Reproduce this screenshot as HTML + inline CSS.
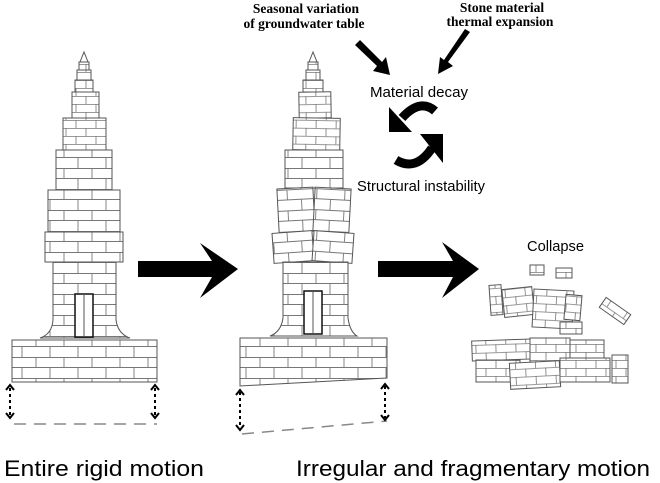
<!DOCTYPE html>
<html><head><meta charset="utf-8"><style>html,body{margin:0;padding:0;background:#fff}svg{display:block}</style></head>
<body>
<svg width="660" height="483" viewBox="0 0 660 483" xmlns="http://www.w3.org/2000/svg">
<defs>
<pattern id="b" width="28" height="21" patternUnits="userSpaceOnUse">
<rect width="28" height="21" fill="#fff"/>
<path d="M0 0.5H28M0 10.5H28M8 0V10.5M22 10.5V21" stroke="#777" stroke-width="0.9" fill="none"/>
</pattern>
<pattern id="bs" width="20" height="16" patternUnits="userSpaceOnUse">
<rect width="20" height="16" fill="#fff"/>
<path d="M0 0.5H20M0 8.5H20M6 0V8M16 8V16" stroke="#777" stroke-width="0.8" fill="none"/>
</pattern>
</defs>
<g stroke="#555" stroke-width="1">
<!-- Tower 1 -->
<path d="M84 52L80 62H88Z" fill="#fff"/>
<rect x="79" y="62" width="10" height="8" fill="url(#bs)"/>
<rect x="77" y="70" width="14" height="10" fill="url(#bs)"/>
<rect x="75" y="80" width="18" height="12" fill="url(#bs)"/>
<rect x="72" y="92" width="27" height="26" fill="url(#bs)"/>
<rect x="63" y="118" width="43" height="32" fill="url(#bs)"/>
<rect x="56" y="150" width="56" height="40" fill="url(#b)"/>
<rect x="48" y="190" width="72" height="42" fill="url(#b)"/>
<rect x="45" y="232" width="78" height="30" fill="url(#b)"/>
<path d="M53 262H116V320Q118 334 130 338H40Q52 334 53 320Z" fill="url(#b)"/>
<rect x="75" y="294" width="18" height="43" fill="#fff" stroke="#111" stroke-width="1.5"/>
<line x1="84" y1="294" x2="84" y2="337"/>
<rect x="12" y="340" width="145" height="42" fill="url(#b)"/>
<!-- Tower 2 -->
<path d="M313 52L309 62H317Z" fill="#fff"/>
<rect x="308" y="62" width="10" height="8" fill="url(#bs)"/>
<rect x="306" y="70" width="14" height="10" fill="url(#bs)"/>
<rect x="303" y="80" width="20" height="12" fill="url(#bs)"/>
<rect x="299" y="92" width="32" height="26" fill="url(#bs)" transform="rotate(-1 315 105)"/>
<rect x="293" y="118" width="47" height="32" fill="url(#bs)" transform="rotate(1 316 134)"/>
<rect x="285" y="150" width="58" height="38" fill="url(#b)"/>
<rect x="278" y="188" width="36" height="44" fill="url(#b)" transform="rotate(-3 296 210)"/>
<rect x="314" y="188" width="36" height="44" fill="url(#b)" transform="rotate(3 332 210)"/>
<rect x="273" y="232" width="40" height="30" fill="url(#b)" transform="rotate(-4 293 247)"/>
<rect x="313" y="232" width="40" height="30" fill="url(#b)" transform="rotate(4 333 247)"/>
<path d="M283 262H348V318Q350 332 357 336H270Q281 332 283 318Z" fill="url(#b)"/>
<rect x="304" y="291" width="18" height="43" fill="#fff" stroke="#111" stroke-width="1.5"/>
<line x1="313" y1="291" x2="313" y2="334"/>
<path d="M240 338H387V378L240 386Z" fill="url(#b)"/>
<!-- ground lines -->
<path d="M14 424H157" stroke="#888" stroke-width="1.5" stroke-dasharray="12 8"/>
<path d="M242 434L387 421" stroke="#888" stroke-width="1.5" stroke-dasharray="12 8"/>
<!-- rubble -->
<g fill="url(#bs)">
<rect x="530" y="265" width="14" height="10"/><rect x="556" y="268" width="16" height="10"/>
<rect x="490" y="285" width="12" height="30" transform="rotate(-4 496 300)"/>
<rect x="503" y="288" width="30" height="28" transform="rotate(-6 518 300)"/>
<rect x="533" y="290" width="40" height="38" transform="rotate(3 553 309)"/>
<rect x="565" y="295" width="16" height="25" transform="rotate(5 573 307)"/>
<rect x="560" y="322" width="22" height="12"/>
<rect x="472" y="340" width="60" height="20" transform="rotate(-2 502 350)"/>
<rect x="530" y="338" width="40" height="24"/>
<rect x="570" y="340" width="34" height="20"/>
<rect x="476" y="360" width="44" height="22"/>
<rect x="510" y="362" width="50" height="26" transform="rotate(-3 535 375)"/>
<rect x="560" y="358" width="50" height="24"/>
<rect x="612" y="355" width="16" height="28"/>
<rect x="600" y="305" width="30" height="12" transform="rotate(35 615 311)"/>
</g>
</g>
<!-- dashed double arrows -->
<g stroke="#000" stroke-width="2" stroke-dasharray="3 3" fill="none">
<path d="M10 388V416"/><path d="M155 388V416"/>
<path d="M240 392V428"/><path d="M385 386V418"/>
</g>
<g fill="none" stroke="#000" stroke-width="2">
<path d="M6 390L10 385L14 390M6 413L10 418L14 413"/>
<path d="M151 390L155 385L159 390M151 413L155 418L159 413"/>
<path d="M236 395L240 390L244 395M236 425L240 430L244 425"/>
<path d="M381 389L385 384L389 389M381 415L385 420L389 415"/>
</g>
<!-- big arrows -->
<path d="M138 261H212L200 243L238 269L200 298L212 277H138Z" fill="#000"/>
<path d="M378 261H453L442 242L479 269L442 298L453 277H378Z" fill="#000"/>
<!-- small arrows -->
<path d="M360 40L382 62L386 57L390 75L373 71L377 66L355 45Z" fill="#000"/>
<path d="M470 32L448 62L453 66L438 74L440 57L444 60L465 29Z" fill="#000"/>
<!-- cycle arrows -->
<path d="M435 111Q420 98 402 118" fill="none" stroke="#000" stroke-width="9"/>
<path d="M389 107L389 132H412Z" fill="#000"/>
<path d="M396 160Q416 172 432 148" fill="none" stroke="#000" stroke-width="9"/>
<path d="M443 163L443 134H420Z" fill="#000"/>
<!-- text -->
<g font-family="Liberation Serif, serif" font-weight="bold" font-size="13.5" text-anchor="middle">
<text x="306" y="13">Seasonal variation</text>
<text x="304" y="28">of groundwater table</text>
<text x="502" y="12">Stone material</text>
<text x="500" y="26">thermal expansion</text>
</g>
<g font-family="Liberation Sans, sans-serif" font-size="15">
<text x="370" y="97" textLength="98" lengthAdjust="spacingAndGlyphs">Material decay</text>
<text x="357" y="191" textLength="128" lengthAdjust="spacingAndGlyphs">Structural instability</text>
<text x="527" y="251" textLength="57" lengthAdjust="spacingAndGlyphs">Collapse</text>
</g>
<g font-family="Liberation Sans, sans-serif" font-size="22">
<text x="4" y="476" textLength="200" lengthAdjust="spacingAndGlyphs">Entire rigid motion</text>
<text x="296" y="476" textLength="354" lengthAdjust="spacingAndGlyphs">Irregular and fragmentary motion</text>
</g>
</svg>
</body></html>
